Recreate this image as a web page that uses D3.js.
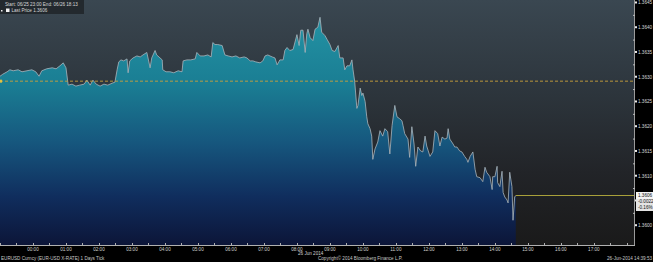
<!DOCTYPE html>
<html>
<head>
<meta charset="utf-8">
<script src="https://cdn.jsdelivr.net/npm/d3@7"></script>
<style>
  html, body { margin: 0; padding: 0; background: #000; }
  svg { display: block; font-family: "Liberation Sans", Arial, sans-serif; }
</style>
</head>
<body>
<svg id="chart" width="653" height="262"></svg>
<script>
// EURUSD tick data, 06/25 23:00 -> 06/26 14:40 (minutes after start)
const minutesFromStart = [
  0, 5, 13, 18, 24, 33, 40, 49, 58, 65, 71, 76, 85, 95, 102, 109, 115, 120, 124, 131,
  138, 145, 153, 158, 164, 169, 175, 182, 189, 196, 204, 209, 213, 216, 220, 225, 231, 233, 236, 242,
  249, 255, 260, 267, 273, 276, 282, 285, 291, 295, 296, 302, 309, 316, 324, 331, 333, 340, 347, 355,
  358, 364, 371, 378, 384, 387, 391, 396, 404, 409, 415, 422, 429, 436, 444, 449, 455, 460, 465, 473,
  478, 482, 487, 495, 500, 504, 509, 515, 518, 522, 527, 533, 540, 544, 547, 551, 555, 558, 560, 564,
  569, 573, 578, 582, 585, 591, 595, 600, 604, 609, 615, 618, 624, 627, 631, 636, 640, 642, 645, 649,
  651, 655, 658, 660, 664, 667, 669, 673, 676, 678, 682, 687, 691, 696, 700, 705, 709, 713, 718, 722,
  727, 731, 733, 736, 742, 745, 749, 753, 756, 760, 765, 769, 773, 776, 782, 787, 791, 796, 800, 804,
  809, 813, 815, 818, 824, 827, 831, 836, 840, 845, 849, 851, 855, 860, 864, 867, 873, 878, 882, 885,
  891, 895, 896, 900, 904, 905, 909, 913, 915, 918, 922, 924, 927, 931, 933, 936, 938
];
const prices = [
  1.36301, 1.36305, 1.36310, 1.36314, 1.36312, 1.36314, 1.36310, 1.36312, 1.36314, 1.36310,
  1.36301, 1.36312, 1.36316, 1.36318, 1.36316, 1.36322, 1.36328, 1.36318, 1.36283, 1.36285,
  1.36281, 1.36283, 1.36285, 1.36293, 1.36283, 1.36293, 1.36285, 1.36281, 1.36285, 1.36283,
  1.36287, 1.36289, 1.36314, 1.36330, 1.36334, 1.36332, 1.36336, 1.36308, 1.36332, 1.36338,
  1.36342, 1.36340, 1.36344, 1.36349, 1.36318, 1.36338, 1.36353, 1.36344, 1.36338, 1.36334,
  1.36314, 1.36310, 1.36310, 1.36308, 1.36312, 1.36310, 1.36332, 1.36334, 1.36334, 1.36336,
  1.36349, 1.36342, 1.36342, 1.36344, 1.36340, 1.36369, 1.36365, 1.36365, 1.36363, 1.36344,
  1.36342, 1.36340, 1.36342, 1.36338, 1.36340, 1.36338, 1.36332, 1.36332, 1.36330, 1.36328,
  1.36332, 1.36342, 1.36344, 1.36340, 1.36338, 1.36324, 1.36334, 1.36334, 1.36353, 1.36359,
  1.36353, 1.36355, 1.36385, 1.36363, 1.36394, 1.36394, 1.36349, 1.36387, 1.36396, 1.36379,
  1.36373, 1.36396, 1.36400, 1.36420, 1.36390, 1.36383, 1.36375, 1.36365, 1.36353, 1.36351,
  1.36363, 1.36338, 1.36338, 1.36314, 1.36322, 1.36322, 1.36334, 1.36314, 1.36291, 1.36236,
  1.36242, 1.36277, 1.36262, 1.36267, 1.36250, 1.36219, 1.36205, 1.36195, 1.36180, 1.36133,
  1.36154, 1.36168, 1.36191, 1.36180, 1.36195, 1.36189, 1.36144, 1.36201, 1.36242, 1.36219,
  1.36215, 1.36211, 1.36201, 1.36185, 1.36174, 1.36137, 1.36199, 1.36164, 1.36119, 1.36158,
  1.36150, 1.36148, 1.36180, 1.36160, 1.36139, 1.36148, 1.36191, 1.36185, 1.36160, 1.36178,
  1.36174, 1.36176, 1.36195, 1.36174, 1.36164, 1.36158, 1.36158, 1.36150, 1.36148, 1.36139,
  1.36133, 1.36127, 1.36139, 1.36148, 1.36113, 1.36098, 1.36096, 1.36088, 1.36117, 1.36107,
  1.36098, 1.36072, 1.36098, 1.36098, 1.36119, 1.36086, 1.36078, 1.36109, 1.36066, 1.36057,
  1.36051, 1.36045, 1.36107, 1.36078, 1.36010, 1.36057, 1.36060
];
const priceTicks = [1.3600, 1.3605, 1.3610, 1.3615, 1.3620, 1.3625, 1.3630, 1.3635, 1.3640, 1.3645];
const hourLabels = ['00:00', '01:00', '02:00', '03:00', '04:00', '05:00', '06:00', '07:00', '08:00',
  '09:00', '10:00', '11:00', '12:00', '13:00', '14:00', '15:00', '16:00', '17:00'];
const prevClose = 1.36291;
const lastPrice = 1.3606;
const lastLabels = ['1.3606', '-0.0022', '-0.16%'];

const W = 653, H = 262;
const FS = 4.6;
const plot = {left: 0, right: 634, top: 0, bottom: 245};
const start = new Date(2014, 5, 25, 23, 0);
const end = new Date(2014, 5, 26, 18, 13);
const data = minutesFromStart.map((m, i) => ({t: new Date(start.getTime() + m * 60000), v: prices[i]}));

const svg = d3.select('#chart');
const defs = svg.append('defs');

const bg = defs.append('linearGradient').attr('id', 'bg')
  .attr('x1', 0).attr('y1', 0).attr('x2', 0).attr('y2', 1);
[['0%', '#3a4751'], ['40%', '#2c343b'], ['70%', '#222428'], ['100%', '#1a1a1a']]
  .forEach(s => bg.append('stop').attr('offset', s[0]).attr('stop-color', s[1]));

const fill = defs.append('linearGradient').attr('id', 'fill')
  .attr('gradientUnits', 'userSpaceOnUse')
  .attr('x1', 0).attr('y1', plot.top).attr('x2', 0).attr('y2', plot.bottom);
[['0%', '#2598a8'], ['35%', '#1a7d93'], ['58%', '#16577e'], ['80%', '#102e5e'], ['100%', '#0c1538']]
  .forEach(s => fill.append('stop').attr('offset', s[0]).attr('stop-color', s[1]));

const x = d3.scaleTime().domain([start, end]).range([plot.left, plot.right]);
const y = d3.scaleLinear().domain([1.35960, 1.36455]).range([plot.bottom, plot.top]);

svg.append('rect').attr('x', plot.left).attr('y', plot.top)
  .attr('width', plot.right - plot.left).attr('height', plot.bottom - plot.top)
  .attr('fill', 'url(#bg)');

const area = d3.area().x(d => x(d.t)).y0(plot.bottom).y1(d => y(d.v));
svg.append('path').datum(data).attr('d', area).attr('fill', 'url(#fill)');

const line = d3.line().x(d => x(d.t)).y(d => y(d.v));
svg.append('path').datum(data).attr('d', line)
  .attr('fill', 'none').attr('stroke', '#aab5bd').attr('stroke-width', 0.8);

// previous close, dashed
svg.append('line')
  .attr('x1', plot.left).attr('x2', plot.right)
  .attr('y1', y(prevClose)).attr('y2', y(prevClose))
  .attr('stroke', '#c9a23c').attr('stroke-width', 0.9).attr('stroke-dasharray', '3,2');
svg.append('rect').attr('x', 0).attr('y', y(prevClose) - 1.5).attr('width', 2).attr('height', 3)
  .attr('fill', '#e0c040');

// last price line
const lastT = data[data.length - 1].t;
svg.append('line')
  .attr('x1', x(lastT)).attr('x2', plot.right)
  .attr('y1', y(lastPrice)).attr('y2', y(lastPrice))
  .attr('stroke', '#a8a03a').attr('stroke-width', 1);

// right axis
const yAxis = svg.append('g');
yAxis.append('line').attr('x1', plot.right + 0.5).attr('x2', plot.right + 0.5)
  .attr('y1', 0).attr('y2', plot.bottom).attr('stroke', '#9a9a9a');
priceTicks.forEach(p => {
  yAxis.append('rect').attr('x', plot.right + 1).attr('y', y(p) - 1).attr('width', 2).attr('height', 2)
    .attr('fill', '#e8e8e8');
  if (p !== 1.3605) {
    yAxis.append('text').attr('x', plot.right + 4).attr('y', y(p) + 1.8)
      .attr('font-size', FS).attr('fill', '#d8d8d8').text(p.toFixed(4));
  }
  yAxis.append('line').attr('x1', plot.right - 1).attr('x2', plot.right + 1)
    .attr('y1', y(p + 0.00025) + 0.5).attr('y2', y(p + 0.00025) + 0.5).attr('stroke', '#bbb');
});

// last price box
const boxY = y(lastPrice) - 3.5;
svg.append('rect').attr('x', plot.right + 2).attr('y', boxY).attr('width', W - plot.right - 2).attr('height', 7)
  .attr('fill', '#f4f4f4');
svg.append('rect').attr('x', plot.right + 2).attr('y', boxY + 7).attr('width', W - plot.right - 2).attr('height', 12)
  .attr('fill', '#e4e4e4');
lastLabels.forEach((t, i) => {
  svg.append('text').attr('x', plot.right + 4).attr('y', boxY + 5.3 + i * 6)
    .attr('font-size', FS).attr('fill', '#111').text(t);
});

// bottom axis
const xAxis = svg.append('g');
xAxis.append('line').attr('x1', 0).attr('x2', plot.right + 1)
  .attr('y1', plot.bottom + 0.5).attr('y2', plot.bottom + 0.5).attr('stroke', '#b0b0b0');
const halfHours = d3.timeMinute.every(30).range(start, end);
halfHours.forEach(t => {
  xAxis.append('line').attr('x1', Math.round(x(t)) + 0.5).attr('x2', Math.round(x(t)) + 0.5)
    .attr('y1', plot.bottom - 2).attr('y2', plot.bottom).attr('stroke', '#b0b0b0');
});
hourLabels.forEach((lab, i) => {
  const t = new Date(start.getTime() + (i + 1) * 3600000);
  xAxis.append('text').attr('x', x(t)).attr('y', plot.bottom + 5.5)
    .attr('text-anchor', 'middle').attr('font-size', FS).attr('fill', '#d0d0d0').text(lab);
});
xAxis.append('text').attr('x', x(new Date(2014, 5, 26, 8, 25))).attr('y', plot.bottom + 10)
  .attr('text-anchor', 'middle').attr('font-size', FS).attr('fill', '#d0d0d0').text('26 Jun 2014');

// footer
svg.append('text').attr('x', 1).attr('y', 260).attr('font-size', FS).attr('fill', '#c8c8c8')
  .text('EURUSD Curncy (EUR-USD X-RATE) 1 Days  Tick');
svg.append('text').attr('x', 318).attr('y', 260).attr('font-size', FS).attr('fill', '#c8c8c8')
  .text('Copyright\u00a9 2014 Bloomberg Finance L.P.');
svg.append('text').attr('x', 652).attr('y', 260).attr('text-anchor', 'end').attr('font-size', FS)
  .attr('fill', '#c8c8c8').text('26-Jun-2014 14:39:53');

// legend box
svg.append('rect').attr('x', 0).attr('y', 0).attr('width', 84).attr('height', 14).attr('fill', '#23292e');
svg.append('text').attr('x', 5).attr('y', 6).attr('font-size', FS).attr('fill', '#d8d8d8')
  .text('Start: 06/25 23:00  End: 06/26 18:13');
svg.append('rect').attr('x', 6).attr('y', 8.5).attr('width', 3.5).attr('height', 3.5).attr('fill', '#f2f2f2');
svg.append('rect').attr('x', 1).attr('y', 10).attr('width', 1.5).attr('height', 1.5).attr('fill', '#f2f2f2');
svg.append('text').attr('x', 11.5).attr('y', 12).attr('font-size', FS).attr('fill', '#d8d8d8')
  .text('Last Price  1.3606');
</script>
</body>
</html>
